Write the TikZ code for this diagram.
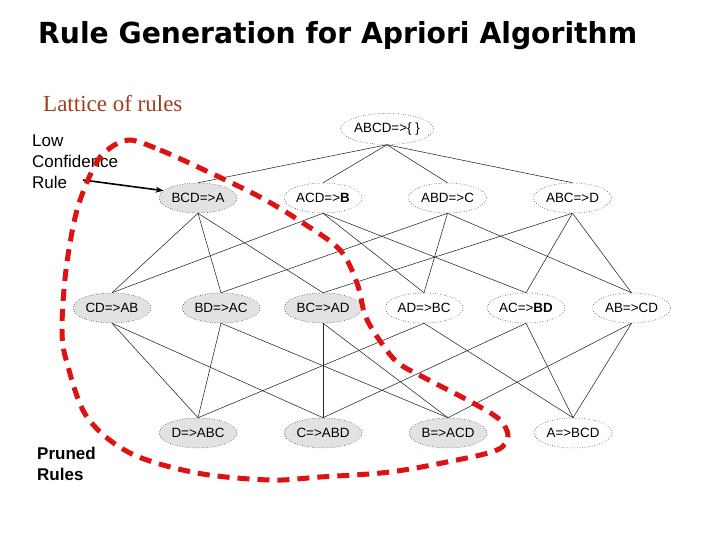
\documentclass[tikz,border=0pt]{standalone}
\usepackage{fontspec}
\usepackage{graphicx}
\usetikzlibrary{shapes.geometric,arrows.meta}
\newfontfamily\arialf{Liberation Sans}
\newfontfamily\timesf{Liberation Serif}
\newfontfamily\titlef{DejaVu Sans}
\newsavebox\titlebox
\definecolor{lattbrown}{RGB}{160,62,30}
\definecolor{prunegray}{RGB}{226,226,226}
\definecolor{prunered}{RGB}{222,18,18}
\tikzset{
  rule/.style={ellipse, draw=black, dotted, line width=0.5pt, minimum width=78pt, minimum height=30pt, inner sep=0pt,
     font=\arialf\fontsize{13.4}{16}\selectfont},
  pruned/.style={rule, fill=prunegray},
  kept/.style={rule, fill=white},
  edge/.style={black!85, line width=0.55pt},
  label/.style={anchor=base west, inner sep=0pt, align=left},
}
\begin{document}
\begin{tikzpicture}[x=1pt,y=-1pt]
\fill[white] (0,0) rectangle (720,540);
\useasboundingbox (0,0) rectangle (720,540);

% title
\node[label] (title) at (38,44) {\sbox\titlebox{\titlef\bfseries\fontsize{29}{34}\selectfont Rule Generation for Apriori Algorithm}\pgfmathsetmacro\tsc{599/\wd\titlebox}\scalebox{\tsc}[1]{\usebox\titlebox}};
\node[label, text=lattbrown, font=\timesf\fontsize{23}{27}\selectfont] (latt) at (43,112) {Lattice of rules};

% lattice nodes
\node[kept, minimum width=91pt, minimum height=31pt] (abcd) at (387,129) {ABCD=>\{ \}};

\node[pruned] (bcd) at (198,198) {BCD=>A};
\node[kept] (acd) at (323,198) {ACD=>\textbf{B}};
\node[kept] (abd) at (447.5,198) {ABD=>C};
\node[kept] (abc) at (572.5,198) {ABC=>D};

\node[pruned] (cd) at (112,308) {CD=>AB};
\node[pruned] (bd) at (221,308) {BD=>AC};
\node[pruned] (bc) at (323,308) {BC=>AD};
\node[kept] (ad) at (424,308) {AD=>BC};
\node[kept] (ac) at (526,308) {AC=>\textbf{BD}};
\node[kept] (ab) at (631.5,308) {AB=>CD};

\node[pruned] (d) at (198,433) {D=>ABC};
\node[pruned] (c) at (323,433) {C=>ABD};
\node[pruned] (b) at (448,433) {B=>ACD};
\node[kept] (a) at (573,433) {A=>BCD};

% edges
\foreach \u/\v in {abcd/bcd,abcd/acd,abcd/abd,abcd/abc,
  bcd/cd,bcd/bd,bcd/bc, acd/cd,acd/ad,acd/ac, abd/bd,abd/ad,abd/ab, abc/bc,abc/ac,abc/ab,
  cd/d,cd/c, bd/d,bd/b, bc/c,bc/b, ad/d,ad/a, ac/c,ac/a, ab/b,ab/a}
  \draw[edge] (\u.south) -- (\v.north);

% labels
\node[label, font=\arialf\fontsize{17}{21}\selectfont] (low) at (32,147) {Low};
\node[label, font=\arialf\fontsize{17}{21}\selectfont] (conf) at (32,168) {Confidence};
\node[label, font=\arialf\fontsize{17}{21}\selectfont] (rulel) at (32,189) {Rule};
\coordinate (arrstart) at (83,180);
\draw[line width=1.6pt, -{Stealth[length=8pt,width=6pt]}] (arrstart) -- (bcd.168);

\node[label, font=\arialf\bfseries\fontsize{17}{21}\selectfont] (pr1) at (37,459) {Pruned};
\node[label, font=\arialf\bfseries\fontsize{17}{21}\selectfont] (pr2) at (37,480) {Rules};

% pruned region boundary
\draw[prunered, line width=5pt, dash pattern=on 12pt off 8pt]
  plot[smooth cycle, tension=0.55] coordinates {
  (130,140) (160,150) (200,168) (260,197) (303,223) (340,250) (357,283) (365,315)
  (378,338) (397,362) (423,377) (473,403) (500,420) (508,437) (497,450) (457,460)
  (390,472) (320,477) (270,480) (197,473) (130,453) (87,417) (67,363) (62,330)
  (66,270) (77,210) (95,165) (110,148)};
\end{tikzpicture}
\end{document}
